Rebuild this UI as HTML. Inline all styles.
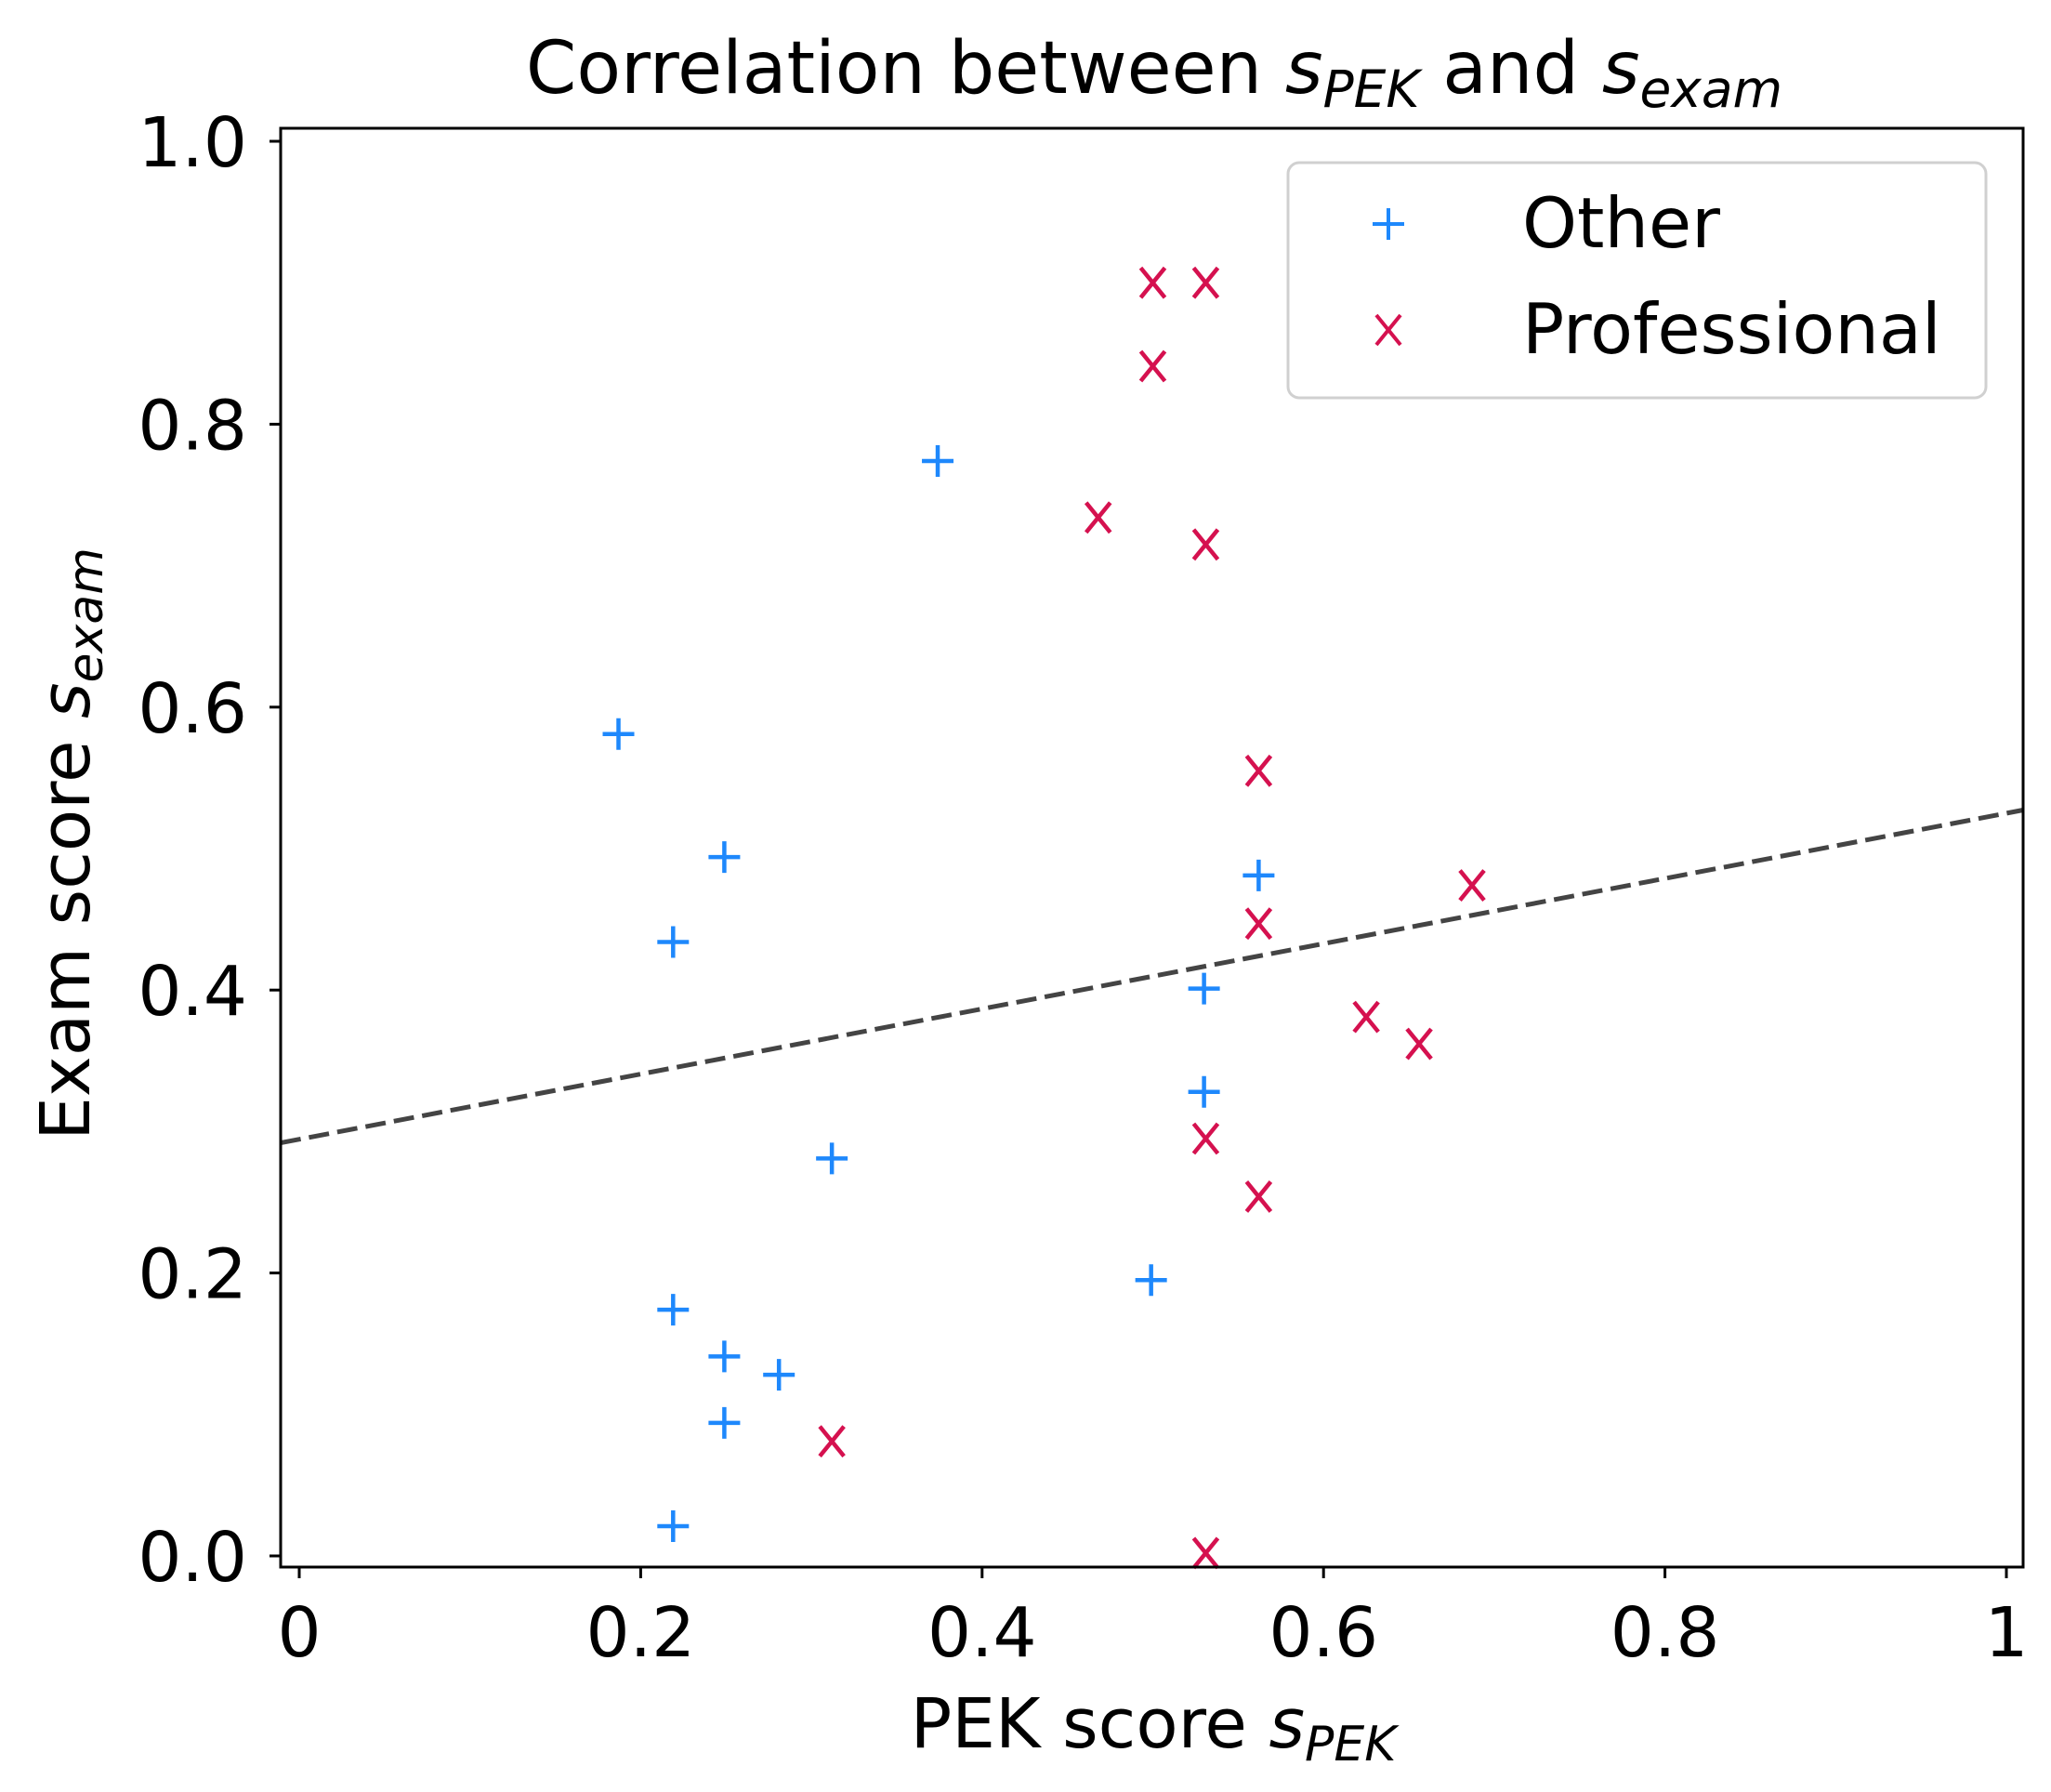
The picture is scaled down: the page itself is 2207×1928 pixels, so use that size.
<!DOCTYPE html>
<html><head><meta charset="utf-8"><style>
html,body{margin:0;padding:0;background:#fff;}
svg{display:block;font-family:"DejaVu Sans","Liberation Sans",sans-serif;}
</style></head><body>
<svg id="chart" width="2207" height="1928" viewBox="0 0 2207 1928" xmlns="http://www.w3.org/2000/svg">
<rect width="2207" height="1928" fill="#fff"/>
<text x="1242" y="100" font-size="78" text-anchor="middle">Correlation between <tspan font-style="italic">s</tspan><tspan font-style="italic" font-size="55" dy="15">PEK</tspan><tspan dy="-15"> and </tspan><tspan font-style="italic">s</tspan><tspan font-style="italic" font-size="55" dy="15">exam</tspan></text>
<g id="marks"></g>
<rect x="302" y="138" width="1875" height="1548" fill="none" stroke="#000" stroke-width="3"/>
<g id="xticks"></g><g id="yticks"></g>
<text x="1241" y="1880" font-size="74" text-anchor="middle">PEK score <tspan font-style="italic">s</tspan><tspan font-style="italic" font-size="52" dy="14">PEK</tspan></text>
<text transform="translate(96,908) rotate(-90)" font-size="74" text-anchor="middle">Exam score <tspan font-style="italic">s</tspan><tspan font-style="italic" font-size="52" dy="14">exam</tspan></text>
<g>
<rect x="1386" y="175" width="751" height="253" rx="12" fill="#fff" fill-opacity="0.8" stroke="#d0d0d0" stroke-width="3"/>
<g>
<path d="M1494 224v34M1477 241h34" stroke="#1e88fc" stroke-width="4"/>
<text x="1638" y="266" font-size="75">Other</text></g>
<g>
<path d="M1481 339l26 32M1507 339l-26 32" stroke="#d5114f" stroke-width="4"/>
<text x="1638" y="380" font-size="75">Professional</text></g>
</g>
</svg>
<script>
const otherX=[0.374,0.187,0.249,0.219,0.562,0.530,0.530,0.312,0.499,0.219,0.249,0.281,0.249,0.219];
const otherY=[0.774,0.581,0.494,0.434,0.481,0.401,0.328,0.281,0.195,0.174,0.141,0.128,0.094,0.021];
const profX=[0.500,0.531,0.500,0.468,0.531,0.562,0.687,0.562,0.625,0.656,0.531,0.562,0.312,0.531];
const profY=[0.900,0.900,0.841,0.734,0.715,0.555,0.474,0.447,0.381,0.362,0.295,0.254,0.081,0.002];
const fitLine=[0.2945,0.2305];
const xTicks=[0,0.2,0.4,0.6,0.8,1];
const xTickLabels=["0","0.2","0.4","0.6","0.8","1"];
const yTicks=[0,0.2,0.4,0.6,0.8,1.0];
const yTickLabels=["0.0","0.2","0.4","0.6","0.8","1.0"];
const NS="http://www.w3.org/2000/svg";
const X=v=>322+v*1837, Y=v=>1674-v*1522;
const XMIN=-0.0109, XMAX=1.0098;
function mk(tag,attrs,parent){const e=document.createElementNS(NS,tag);for(const k in attrs)e.setAttribute(k,attrs[k]);parent.appendChild(e);return e;}
const marks=document.getElementById('marks');
const fl=mk('line',{x1:X(XMIN),y1:Y(fitLine[0]+fitLine[1]*XMIN),x2:X(XMAX),y2:Y(fitLine[0]+fitLine[1]*XMAX),stroke:'#444',"stroke-width":5,"stroke-dasharray":"22,9"},marks);


otherX.forEach((x,i)=>{const cx=X(x),cy=Y(otherY[i]);
const p=mk('path',{d:`M${cx} ${cy-17}v34M${cx-17} ${cy}h34`,stroke:'#1e88fc',"stroke-width":4.5},marks);

});
profX.forEach((x,i)=>{const cx=X(x),cy=Y(profY[i]);
const p=mk('path',{d:`M${cx-13} ${cy-16}l26 32M${cx+13} ${cy-16}l-26 32`,stroke:'#d5114f',"stroke-width":4.5},marks);

});
const xt=document.getElementById('xticks');
xTicks.forEach((v,i)=>{const x=X(v);
mk('line',{x1:x,y1:1686,x2:x,y2:1698,stroke:'#000',"stroke-width":3},xt);
const t=mk('text',{x:x,y:1782,"font-size":74,"text-anchor":"middle"},xt);t.textContent=xTickLabels[i];

});
const yt=document.getElementById('yticks');
yTicks.forEach((v,i)=>{const y=Y(v);
mk('line',{x1:290,y1:y,x2:302,y2:y,stroke:'#000',"stroke-width":3},yt);
const t=mk('text',{x:266,y:y+27,"font-size":74,"text-anchor":"end"},yt);t.textContent=yTickLabels[i];

});
</script>
</body></html>
